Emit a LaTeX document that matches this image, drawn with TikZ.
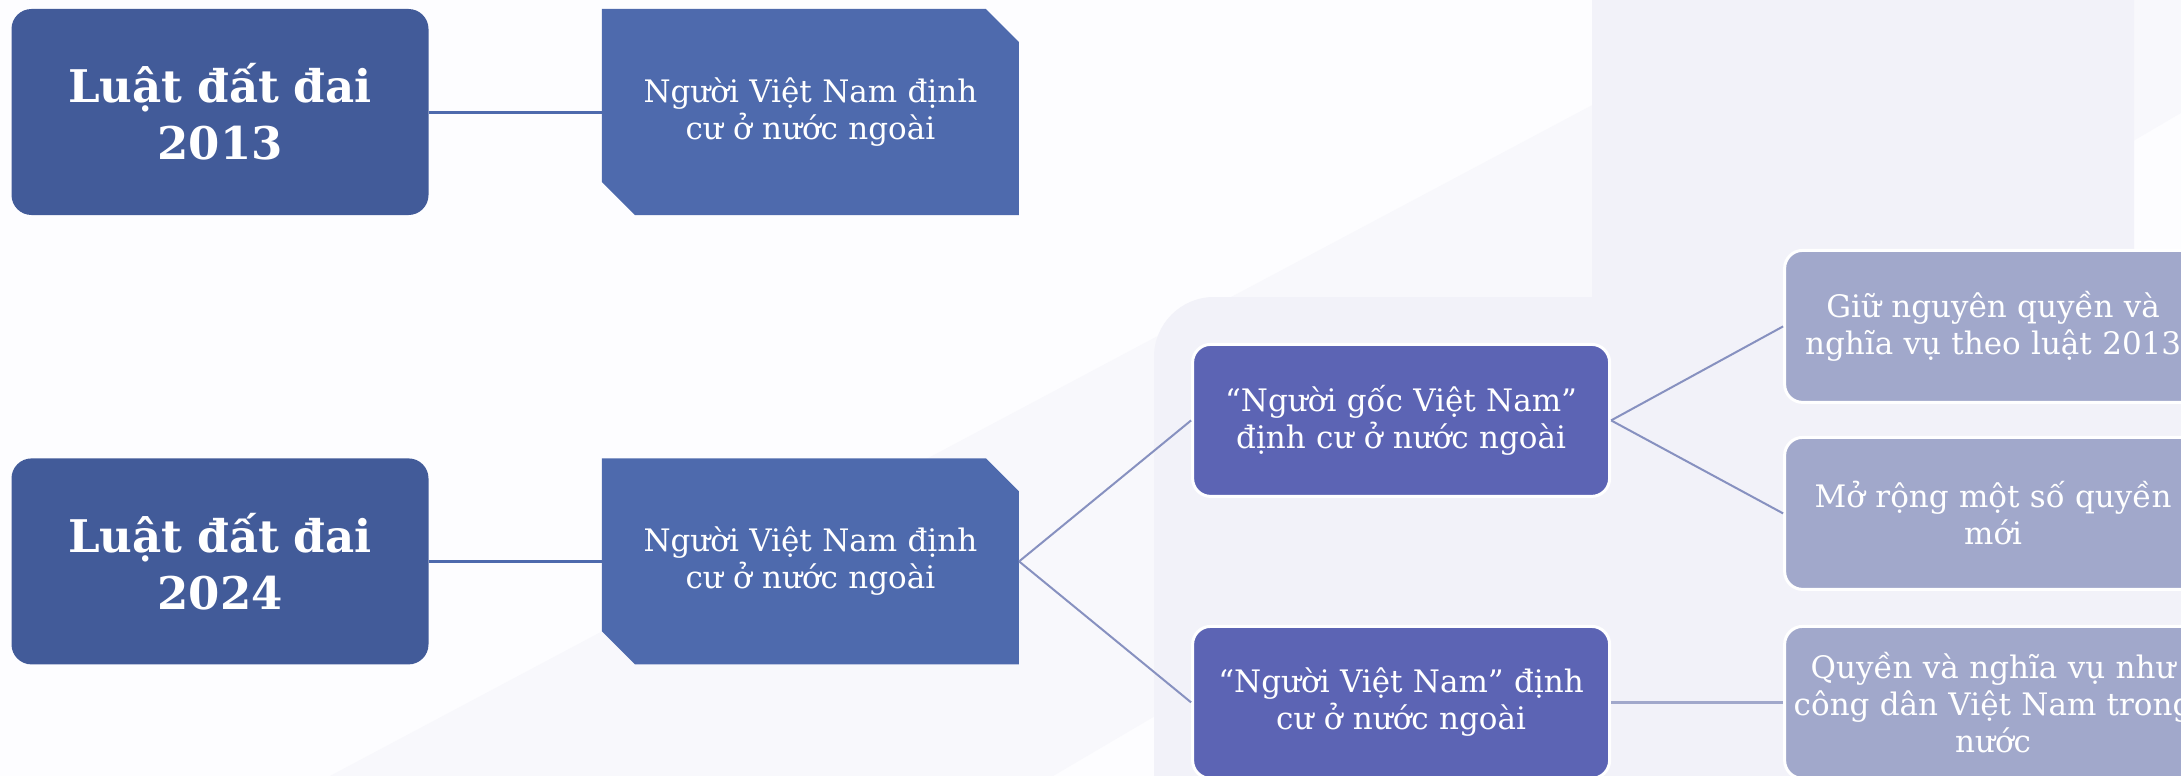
\documentclass[tikz,border=0pt]{standalone}
\usepackage{fontspec}
\setmainfont{DejaVu Serif}
\usetikzlibrary{positioning}

\definecolor{lawblue}{RGB}{66,91,153}
\definecolor{groupblue}{RGB}{78,106,173}
\definecolor{kindblue}{RGB}{92,100,180}
\definecolor{rightblue}{RGB}{161,168,203}
\definecolor{branchline}{RGB}{135,145,192}
\definecolor{paper}{RGB}{253,253,255}
\definecolor{backtint}{RGB}{242,242,249}

\begin{document}
\begin{tikzpicture}[x=1pt,y=-1pt]
\tikzset{every node/.style={text=white, align=center, inner sep=0pt, minimum width=417pt},
lawbox/.style={fill=lawblue, rounded corners=20pt, minimum height=206pt, text width=390pt,
font=\fontsize{45}{57}\selectfont\bfseries},
groupbox/.style={minimum height=206pt, text width=390pt, font=\fontsize{31}{37}\selectfont,
path picture={\fill[groupblue] (path picture bounding box.north west)
 -- ([xshift=-33pt]path picture bounding box.north east)
 -- ([yshift=-33pt]path picture bounding box.north east)
 -- (path picture bounding box.south east)
 -- ([xshift=33pt]path picture bounding box.south west)
 -- ([yshift=33pt]path picture bounding box.south west) -- cycle;}},
kindbox/.style={fill=kindblue, draw=white, line width=3pt, rounded corners=18pt, minimum height=152pt,
text width=395pt, font=\fontsize{31}{37}\selectfont},
rightbox/.style={fill=rightblue, draw=white, line width=3pt, rounded corners=18pt, minimum height=152pt,
text width=400pt, font=\fontsize{31}{37}\selectfont}}

\useasboundingbox (0,0) rectangle (2181,776);
\clip (0,0) rectangle (2181,776);
% faint backdrop
\fill[paper] (0,0) rectangle (2181,776);
\fill[backtint!50!paper] (330,776) -- (1790,0) -- (2373,0) -- (1053,776) -- cycle;
\fill[backtint, rounded corners=60pt] (1154,297) rectangle (2300,900);
\fill[backtint, rounded corners=60pt] (1592,-60) rectangle (2134,560);

\node[lawbox] (law 2013) at (220,112) {Luật đất đai\\2013};
\node[groupbox, right=173pt of law 2013] (overseas 2013) {Người Việt Nam định\\cư ở nước ngoài};
\node[lawbox, below=243pt of law 2013] (law 2024) {Luật đất đai\\2024};
\node[groupbox, right=173pt of law 2024] (overseas 2024) {Người Việt Nam định\\cư ở nước ngoài};

\node[kindbox, right=172pt of overseas 2024, yshift=141pt] (origin) {“Người gốc Việt Nam”\\định cư ở nước ngoài};
\node[kindbox, right=172pt of overseas 2024, yshift=-141pt] (citizen) {“Người Việt Nam” định\\cư ở nước ngoài};

\node[rightbox, right=172pt of origin, yshift=94pt] (keep rights) {Giữ nguyên quyền và\\nghĩa vụ theo luật 2013};
\node[rightbox, right=172pt of origin, yshift=-93pt] (new rights) {Mở rộng một số quyền\\mới};
\node[rightbox, right=172pt of citizen] (citizen rights) {Quyền và nghĩa vụ như\\công dân Việt Nam trong\\nước};

\path[draw, groupblue, line width=3pt]
(law 2013) edge (overseas 2013)
(law 2024) edge (overseas 2024);
\path[draw, branchline, line width=2pt]
(overseas 2024.east) edge (origin.west)
(overseas 2024.east) edge (citizen.west)
(origin.east) edge (keep rights.west)
(origin.east) edge (new rights.west);
\path[draw, rightblue, line width=3pt]
(citizen) edge (citizen rights);
\end{tikzpicture}
\end{document}
